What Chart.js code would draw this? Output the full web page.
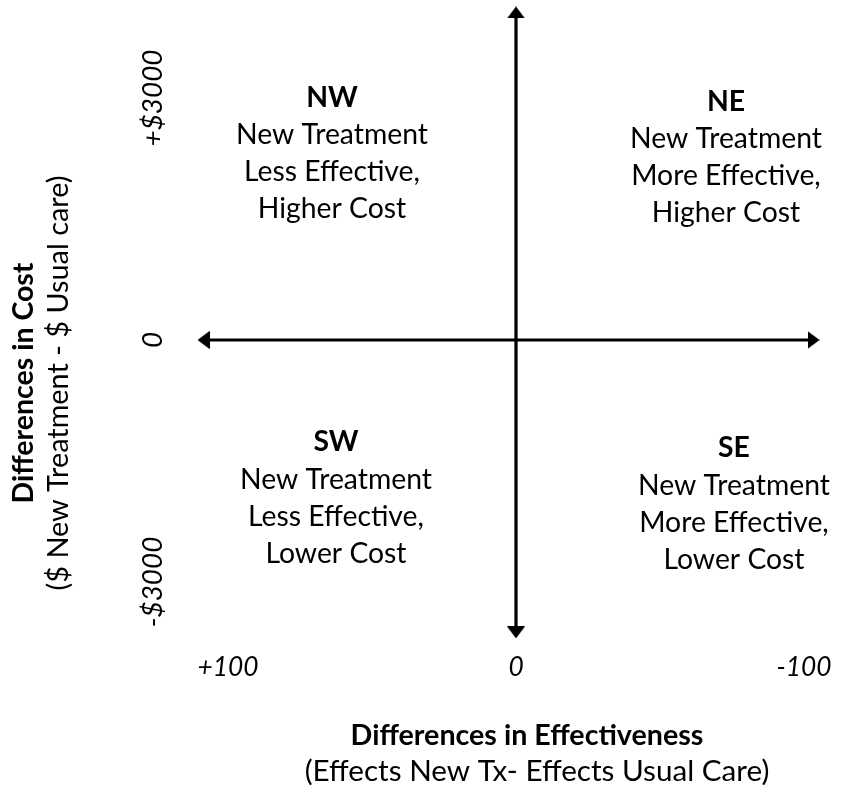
<!DOCTYPE html>
<html>
<head>
<meta charset="utf-8">
<script src="https://cdn.jsdelivr.net/npm/chart.js@4.4.1/dist/chart.umd.min.js"></script>
<style>
  html, body { margin: 0; padding: 0; background: #fff; }
  #wrap { width: 851px; height: 791px; position: relative; }
</style>
</head>
<body>
<div id="wrap"><canvas id="c"></canvas></div>
<script>
// ---- data ----
const effectTicks = [100, 0, -100];
const effectTickLabels = ['+100', '0', '-100'];
const costTicks = [3000, 0, -3000];
const costTickLabels = ['+$3000', '0', '-$3000'];
const effectAxisExtent = [108.5, -103.3];   // horizontal arrow: effectiveness from/to
const costAxisExtent = [4060, -3626];       // vertical arrow: cost from/to
const quadrantNames = ['NW', 'NE', 'SW', 'SE'];
const quadrantLines = [
  ['New Treatment', 'Less Effective,', 'Higher Cost'],
  ['New Treatment', 'More Effective,', 'Higher Cost'],
  ['New Treatment', 'Less Effective,', 'Lower Cost'],
  ['New Treatment', 'More Effective,', 'Lower Cost']
];
const xTitle = 'Differences in Effectiveness';
const xSubtitle = '(Effects New Tx- Effects Usual Care)';
const yTitle = 'Differences in Cost';
const ySubtitle = '($ New Treatment - $ Usual care)';

// ---- layout ----
const W = 851, H = 791;
const X0 = 516, PX_PER_X = 2.88;
const Y0 = 340, PX_PER_Y = 242 / 3000;
const xMax = X0 / PX_PER_X, xMin = xMax - W / PX_PER_X;
const yMax = Y0 / PX_PER_Y, yMin = yMax - H / PX_PER_Y;
const FONT = 'Lato';

// arrow head image (tip pointing up)
const head = document.createElement('canvas');
head.width = 18; head.height = 12;
(function () {
  const g = head.getContext('2d');
  g.fillStyle = '#000';
  g.beginPath(); g.moveTo(9, 0); g.lineTo(18, 12); g.lineTo(0, 12); g.closePath(); g.fill();
})();

function fit(ctx, text, weight, style, target) {
  ctx.font = `${style} ${weight} 100px ${FONT}`;
  return 100 * target / ctx.measureText(text).width;
}

const textPlugin = {
  id: 'texts',
  afterDraw(chart) {
    const ctx = chart.ctx;
    const xs = chart.scales.x, ys = chart.scales.y;
    ctx.save();
    ctx.fillStyle = '#000';
    ctx.textAlign = 'center';

    // x tick labels
    const xts = fit(ctx, '+100', 'normal', 'italic', 61);
    ctx.font = `italic normal ${xts}px ${FONT}`;
    ctx.textBaseline = 'alphabetic';
    effectTicks.forEach((v, i) => {
      ctx.fillText(effectTickLabels[i], xs.getPixelForValue(v), 676);
    });

    // y tick labels (rotated)
    const yts = fit(ctx, '+$3000', 'normal', 'italic', 97);
    costTicks.forEach((v, i) => {
      ctx.save();
      ctx.translate(162, ys.getPixelForValue(v));
      ctx.rotate(-Math.PI / 2);
      ctx.font = `italic normal ${yts}px ${FONT}`;
      ctx.fillText(costTickLabels[i], 0, 0);
      ctx.restore();
    });

    // x titles
    const xtb = fit(ctx, xTitle, 'bold', 'normal', 353);
    ctx.font = `normal bold ${xtb}px ${FONT}`;
    ctx.fillText(xTitle, 527, 745);
    const xtn = fit(ctx, xSubtitle, 'normal', 'normal', 465);
    ctx.font = `normal normal ${xtn}px ${FONT}`;
    ctx.fillText(xSubtitle, 537, 781);

    // y titles (rotated)
    const ytb = fit(ctx, yTitle, 'bold', 'normal', 241);
    const ytn = fit(ctx, ySubtitle, 'normal', 'normal', 415);
    ctx.save();
    ctx.translate(33, 383); ctx.rotate(-Math.PI / 2);
    ctx.font = `normal bold ${ytb}px ${FONT}`;
    ctx.fillText(yTitle, 0, 0);
    ctx.restore();
    ctx.save();
    ctx.translate(68, 383); ctx.rotate(-Math.PI / 2);
    ctx.font = `normal normal ${ytn}px ${FONT}`;
    ctx.fillText(ySubtitle, 0, 0);
    ctx.restore();

    // quadrant texts
    const qs = fit(ctx, 'New Treatment', 'normal', 'normal', 192);
    const qpos = [
      { x: 332, b: [107, 144, 181, 218] },
      { x: 726, b: [111, 148, 185, 222] },
      { x: 336, b: [451, 489, 526, 563] },
      { x: 734, b: [457, 495, 532, 569] }
    ];
    quadrantNames.forEach((name, i) => {
      const p = qpos[i];
      ctx.font = `normal bold ${qs}px ${FONT}`;
      ctx.fillText(name, p.x, p.b[0]);
      ctx.font = `normal normal ${qs}px ${FONT}`;
      quadrantLines[i].forEach((t, j) => ctx.fillText(t, p.x, p.b[j + 1]));
    });
    ctx.restore();
  }
};

new Chart(document.getElementById('c'), {
  type: 'scatter',
  data: {
    datasets: [
      {
        data: [{ x: effectAxisExtent[0], y: 0 }, { x: effectAxisExtent[1], y: 0 }],
        showLine: true,
        borderColor: '#000',
        borderWidth: 3.2,
        pointStyle: head,
        pointRotation: [-90, 90],
        pointRadius: 9
      },
      {
        data: [{ x: 0, y: costAxisExtent[0] }, { x: 0, y: costAxisExtent[1] }],
        showLine: true,
        borderColor: '#000',
        borderWidth: 3.2,
        pointStyle: head,
        pointRotation: [0, 180],
        pointRadius: 9
      }
    ]
  },
  options: {
    responsive: true,
    maintainAspectRatio: false,
    animation: false,
    devicePixelRatio: 1,
    events: [],
    layout: { padding: 0, autoPadding: false },
    plugins: { legend: { display: false }, tooltip: { enabled: false } },
    scales: {
      x: { type: 'linear', min: xMin, max: xMax, reverse: true, display: false },
      y: { type: 'linear', min: yMin, max: yMax, display: false }
    }
  },
  plugins: [textPlugin]
});
</script>
</body>
</html>
